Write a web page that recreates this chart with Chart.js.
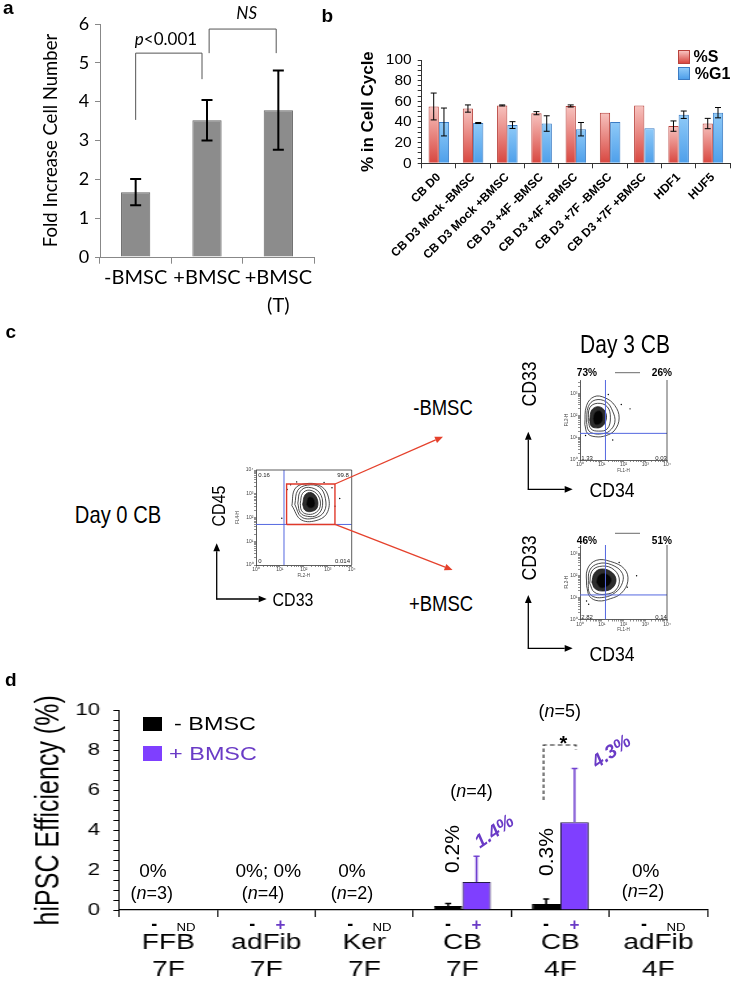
<!DOCTYPE html>
<html>
<head>
<meta charset="utf-8">
<title>BMSC co-culture figure</title>
<script src="https://cdn.jsdelivr.net/npm/chart.js@4.4.1/dist/chart.umd.min.js"></script>
<style>
  html, body { margin: 0; padding: 0; background: #fff; }
  #page { position: relative; width: 734px; height: 982px; overflow: hidden; background: #fff;
          font-family: 'Liberation Sans', Arial, sans-serif; color: #000; }
  #page canvas { position: absolute; }
  .t { position: absolute; white-space: nowrap; line-height: 1; }
  #overlay { position: absolute; left: 0; top: 0; pointer-events: none; }
</style>
</head>
<body>
<div id="page">
  <canvas id="chartA" width="318" height="322" style="left:0px;top:0px;width:318px;height:322px"></canvas>
  <canvas id="chartB" width="434" height="290" style="left:300px;top:0px;width:434px;height:290px"></canvas>
  <canvas id="flowDay0" width="134" height="122" style="left:226px;top:460px;width:134px;height:122px"></canvas>
  <canvas id="flowMinus" width="124" height="110" style="left:552px;top:365px;width:124px;height:110px"></canvas>
  <canvas id="flowPlus" width="124" height="110" style="left:552px;top:524px;width:124px;height:110px"></canvas>
  <!-- panel d is drawn narrow and stretched sideways, like the original -->
  <canvas id="chartD" width="560" height="292" style="left:0px;top:690px;width:728px;height:292px"></canvas>
</div>
<script>
// ---------- panel a: fold increase ----------
const aLabels = [['-BMSC'], ['+BMSC'], ['+BMSC', '(T)']];
const aFold = [1.67, 3.52, 3.78];
const aFoldErr = [0.34, 0.52, 1.02];
// significance brackets: category positions and heights (data units)
const aBrackets = [
  { from: 0, to: 0.93, top: 5.25, left: 3.53, right: 4.58 },
  { from: 1.03, to: 1.97, top: 5.87, left: 5.25, right: 5.25 }
];

// ---------- panel b: cell cycle ----------
const bLabels = ['CB D0', 'CB D3 Mock -BMSC', 'CB D3 Mock +BMSC', 'CB D3 +4F -BMSC', 'CB D3 +4F +BMSC',
                 'CB D3 +7F -BMSC', 'CB D3 +7F +BMSC', 'HDF1', 'HUF5'];
const bS = [55, 53, 56, 48.5, 55.5, 49, 56, 36, 38.5];
const bSErr = [13, 3.5, 0.5, 1.5, 1, 0, 0, 5, 5];
const bG1 = [40, 39, 37, 38.5, 33, 40, 34, 47, 49];
const bG1Err = [13.5, 0.5, 3.3, 7.5, 6.5, 0, 0, 3.6, 5];

// ---------- panel c: flow cytometry contours (raw fluorescence values, outer to inner) ----------
const day0Rings = [
  [[31.6, 316], [42, 1585], [112, 2630], [447, 2239], [1000, 891], [1000, 178], [398, 79], [79, 79]],
  [[42, 355], [56, 1413], [141, 2300], [447, 1905], [794, 631], [708, 178], [282, 95], [79, 105]],
  [[56, 398], [71, 1259], [158, 1862], [447, 1122], [603, 316], [355, 126], [141, 112], [71, 158]],
  [[71, 398], [89, 1047], [178, 1413], [398, 832], [479, 282], [282, 151], [126, 141], [79, 200]],
  [[89, 355], [112, 891], [200, 1122], [355, 631], [355, 251], [200, 178], [112, 200]],
  [[126, 355], [158, 708], [251, 631], [282, 316], [178, 251]]
];
const day0Dots = [[12, 93], [50, 3162], [3162, 631], [1500, 1800], [28, 2400], [700, 3000], [2000, 300], [20, 1500]];
const day0Quad = { x: 14.8, y: 51 };
const day0Gate = [[19, 51], [19, 2570], [1995, 2570], [1995, 51]];
const day0QuadPct = ['0.16', '99.8', '0', '0.014'];

const minusRings = [
  [[1.66, 40], [2, 282], [4.5, 708], [14.1, 631], [40, 282], [63, 79], [40, 22.4], [15.8, 12.6], [5, 11.2], [2.2, 15.8]],
  [[2, 50], [2.4, 251], [5, 501], [15.8, 417], [31.6, 158], [40, 50], [22.4, 20], [10, 15.1], [4, 15.8], [2.4, 22.4]],
  [[2.4, 56], [2.8, 224], [6.3, 355], [17.8, 251], [25, 79], [17.8, 25], [7.1, 20], [3.2, 25]],
  [[2.8, 63], [3.5, 178], [7.1, 251], [14.1, 158], [15.8, 63], [10, 31.6], [5, 28], [3.2, 35]],
  [[4, 71], [5, 141], [8.9, 158], [11.2, 79], [8.9, 45], [5, 40]]
];
const minusDots = [[32, 8], [200, 200], [20, 890], [1.8, 12.6], [79, 316]];
const minusQuad = { x: 14.8, y: 15.8 };
const minusPct = ['73%', '26%', '1.33', '0.03'];

const plusRings = [
  [[2, 35.5], [2.2, 200], [5.6, 501], [25, 447], [112, 200], [158, 56], [79, 15.8], [25, 8.9], [7.1, 7.1], [2.8, 11.2]],
  [[2.4, 40], [2.8, 178], [7.1, 355], [28, 316], [89, 126], [79, 35.5], [31.6, 14.1], [10, 10], [4, 11.2], [2.6, 17.8]],
  [[2.8, 45], [3.5, 158], [7.9, 263], [28, 224], [63, 79], [45, 22.4], [14.1, 14.1], [4.5, 17.8]],
  [[3.5, 50], [4.5, 126], [8.9, 200], [25, 158], [45, 71], [31.6, 28], [12.6, 20], [5, 25]],
  [[5.6, 50], [7.1, 100], [14.1, 126], [28, 71], [20, 35.5], [8.9, 28]]
];
const plusDots = [[2, 7], [400, 100], [63, 400], [2.5, 5], [150, 30]];
const plusQuad = { x: 14.8, y: 13.2 };
const plusPct = ['46%', '51%', '2.82', '0.14'];

// ---------- panel d: reprogramming efficiency ----------
const dLabels = [['FFB', '7F'], ['adFib', '7F'], ['Ker', '7F'], ['CB', '7F'], ['CB', '4F'], ['adFib', '4F']];
const dMinus = [0, 0, 0, 0.2, 0.3, 0];
const dMinusErr = [0, 0, 0, 0.13, 0.25, 0];
const dPlus = [null, 0, null, 1.4, 4.4, null];
const dPlusErr = [0, 0, 0, 1.3, 2.7, 0];
const dMarks = [['-', 'ND'], ['-', '+'], ['-', 'ND'], ['-', '+'], ['-', '+'], ['-', 'ND']];
const dStar = { group: 4, top: 8.28, left: 5.52, right: 8.05 };

const PURPLE = '#7f3fff';
const PURPLE_TEXT = '#6a3bc6';
const BLUE_GATE = '#5468e0';
const RED_ARROW = '#e5412c';
const SANS = "'Liberation Sans', Arial, sans-serif";
const D_STRETCH = 1.3;

Chart.defaults.font.family = SANS;
Chart.defaults.color = '#000';

const page = document.getElementById('page');

function addText(html, x, y, o = {}) {
  const el = document.createElement('div');
  el.className = 't';
  el.innerHTML = html;
  el.style.left = x + 'px';
  el.style.top = y + 'px';
  el.style.fontSize = (o.size || 16) + 'px';
  if (o.family) el.style.fontFamily = o.family;
  if (o.bold) el.style.fontWeight = 'bold';
  if (o.italic) el.style.fontStyle = 'italic';
  if (o.color) el.style.color = o.color;
  el.style.transform = `translate(-50%, -50%) rotate(${o.rot || 0}deg) scaleX(${o.sx || 1})`;
  page.appendChild(el);
  return el;
}

function errorBars(sets) {
  return {
    id: 'errorBars',
    afterDatasetsDraw(chart) {
      const ctx = chart.ctx;
      const ys = chart.scales.y;
      sets.forEach(s => {
        const meta = chart.getDatasetMeta(s.index);
        const values = chart.data.datasets[s.index].data;
        ctx.save();
        ctx.strokeStyle = s.color;
        ctx.lineWidth = s.width;
        meta.data.forEach((bar, i) => {
          const v = values[i];
          const e = s.errors[i];
          if (v == null || !e) return;
          const top = ys.getPixelForValue(v + e);
          const bottom = ys.getPixelForValue(s.upOnly ? v : v - e);
          ctx.beginPath();
          ctx.moveTo(bar.x, bottom);
          ctx.lineTo(bar.x, top);
          ctx.moveTo(bar.x - s.cap / 2, top);
          ctx.lineTo(bar.x + s.cap / 2, top);
          if (!s.upOnly) {
            ctx.moveTo(bar.x - s.cap / 2, bottom);
            ctx.lineTo(bar.x + s.cap / 2, bottom);
          }
          ctx.stroke();
        });
        ctx.restore();
      });
    }
  };
}

// ================= panel a =================
const bracketPlugin = {
  id: 'brackets',
  afterDatasetsDraw(chart) {
    const { ctx } = chart;
    const xs = chart.scales.x, ys = chart.scales.y;
    ctx.save();
    ctx.strokeStyle = '#555';
    ctx.lineWidth = 1;
    aBrackets.forEach(b => {
      const x1 = xs.getPixelForValue(b.from), x2 = xs.getPixelForValue(b.to);
      const yt = ys.getPixelForValue(b.top);
      ctx.beginPath();
      ctx.moveTo(x1, ys.getPixelForValue(b.left));
      ctx.lineTo(x1, yt);
      ctx.lineTo(x2, yt);
      ctx.lineTo(x2, ys.getPixelForValue(b.right));
      ctx.stroke();
    });
    ctx.restore();
  }
};

new Chart(document.getElementById('chartA'), {
  type: 'bar',
  data: {
    labels: aLabels,
    datasets: [{
      data: aFold,
      backgroundColor: '#8c8c8c',
      borderColor: '#666',
      borderWidth: 1,
      categoryPercentage: 1,
      barPercentage: 0.41
    }]
  },
  options: {
    responsive: false,
    animation: false,
    layout: { padding: { top: 24, right: 4, left: 0, bottom: 0 } },
    plugins: { legend: { display: false }, tooltip: { enabled: false } },
    scales: {
      x: {
        grid: { offset: true, drawOnChartArea: false, tickLength: 6.7, color: '#888' },
        border: { color: '#888' },
        ticks: { font: { family: 'Lato', size: 20, lineHeight: 1.4 }, color: '#000', padding: 0, maxRotation: 0, autoSkip: false },
        afterFit: s => { s.height = 65; }
      },
      y: {
        min: 0, max: 6,
        ticks: { stepSize: 1, font: { family: 'Lato', size: 18 }, color: '#000', padding: 5.7 },
        grid: { drawOnChartArea: false, tickLength: 5, color: '#888' },
        border: { color: '#888' },
        title: { display: true, text: 'Fold Increase Cell Number', font: { family: 'Lato', size: 18.5 }, color: '#000', padding: { top: 40, bottom: 0 } },
        afterFit: s => { s.width = 100; }
      }
    }
  },
  plugins: [errorBars([{ index: 0, errors: aFoldErr, color: '#000', width: 2, cap: 11 }]), bracketPlugin]
});

addText('<i>p</i>&lt;0.001', 166, 37.5, { family: 'Lato', size: 17 });
addText('NS', 246.7, 11.7, { family: 'Lato', size: 17, italic: true });

// ================= panel b =================
function barShade(top, bottom) {
  return c => {
    const chart = c.chart;
    if (!chart.chartArea || !c.parsed) return bottom;
    const ys = chart.scales.y;
    const g = chart.ctx.createLinearGradient(0, ys.getPixelForValue(0), 0, ys.getPixelForValue(c.parsed.y));
    g.addColorStop(0, bottom);
    g.addColorStop(1, top);
    return g;
  };
}

new Chart(document.getElementById('chartB'), {
  type: 'bar',
  data: {
    labels: bLabels,
    datasets: [
      { label: '%S', data: bS, backgroundColor: barShade('#f7c3bf', '#d8463f'), borderColor: '#b8423c', borderWidth: 1 },
      { label: '%G1', data: bG1, backgroundColor: barShade('#8fcaf8', '#4e9fea'), borderColor: '#3b7cc4', borderWidth: 1 }
    ]
  },
  options: {
    responsive: false,
    animation: false,
    layout: { padding: { top: 60, right: 4, left: 0, bottom: 0 } },
    datasets: { bar: { categoryPercentage: 0.6, barPercentage: 1 } },
    plugins: { legend: { display: false }, tooltip: { enabled: false } },
    scales: {
      x: {
        grid: { offset: true, drawOnChartArea: false, tickLength: 5, color: '#333' },
        border: { color: '#333' },
        ticks: { font: { size: 12, weight: 'bold' }, color: '#000', minRotation: 45, maxRotation: 45, autoSkip: false, padding: 2 },
        afterFit: s => { s.height = 126.7; }
      },
      y: {
        min: 0, max: 100,
        ticks: { stepSize: 5, autoSkip: false, callback: v => (v % 20 === 0 ? String(v) : ''), font: { size: 15.5 }, color: '#000', padding: 6 },
        grid: { drawOnChartArea: false, tickLength: 4, color: '#333' },
        border: { color: '#333' },
        title: { display: true, text: '% in Cell Cycle', font: { size: 17, weight: 'bold' }, color: '#000', padding: { top: 58, bottom: 0 } },
        afterFit: s => { s.width = 121.7; }
      }
    }
  },
  plugins: [errorBars([
    { index: 0, errors: bSErr, color: '#000', width: 1, cap: 6 },
    { index: 1, errors: bG1Err, color: '#000', width: 1, cap: 6 }
  ])]
});

// legend of panel b
function legendBox(x, y, w, h, grad, border) {
  const el = document.createElement('div');
  el.style.cssText = `position:absolute;left:${x}px;top:${y}px;width:${w}px;height:${h}px;background:${grad};border:1px solid ${border};box-sizing:border-box;`;
  page.appendChild(el);
}
legendBox(678.3, 50, 12, 13.5, 'linear-gradient(#f7c3bf,#d8463f)', '#b8423c');
legendBox(678.3, 66.5, 12, 13.5, 'linear-gradient(#8fcaf8,#4e9fea)', '#3b7cc4');
addText('%S', 706, 57, { size: 16, bold: true });
addText('%G1', 712.5, 73.5, { size: 16, bold: true });

// ================= panel c =================
const flowTickValues = [];
for (let e = 0; e < 4; e++) for (let m = 1; m < 10; m++) flowTickValues.push(m * Math.pow(10, e));
flowTickValues.push(10000);
const SUP = ['\u2070', '\u00b9', '\u00b2', '\u00b3', '\u2074'];
function decadeLabel(v) {
  const e = Math.round(Math.log10(v));
  return Math.abs(Math.pow(10, e) - v) < 1e-6 ? '10' + SUP[e] : '';
}

function frame(sides) {
  return {
    id: 'frame',
    afterDraw(chart) {
      const a = chart.chartArea, c = chart.ctx;
      c.save();
      c.strokeStyle = '#333';
      c.lineWidth = 0.8;
      c.beginPath();
      if (sides.includes('t')) { c.moveTo(a.left, a.top); c.lineTo(a.right, a.top); }
      if (sides.includes('r')) { c.moveTo(a.right, a.top); c.lineTo(a.right, a.bottom); }
      c.stroke();
      c.restore();
    }
  };
}

function flowChart(id, o) {
  const datasets = [];
  o.rings.forEach((ring, i) => {
    const depth = o.rings.length - 1 - i;
    datasets.push({
      data: ring.concat([ring[0]]).map(p => ({ x: p[0], y: p[1] })),
      showLine: true, tension: 0.4, pointRadius: 0,
      borderWidth: 0.8, borderColor: '#1e1e1e',
      fill: depth <= 1 ? 'shape' : false,
      backgroundColor: depth === 0 ? '#050505' : '#2e2e2e',
      order: 30 - i
    });
  });
  datasets.push({ data: o.dots.map(p => ({ x: p[0], y: p[1] })), pointRadius: 0.7, backgroundColor: '#000', borderWidth: 0, order: 6 });
  datasets.push({ data: [{ x: o.quad.x, y: 1 }, { x: o.quad.x, y: 10000 }], showLine: true, pointRadius: 0, borderColor: BLUE_GATE, borderWidth: 1, order: 2 });
  datasets.push({ data: [{ x: 1, y: o.quad.y }, { x: 10000, y: o.quad.y }], showLine: true, pointRadius: 0, borderColor: BLUE_GATE, borderWidth: 1, order: 2 });
  if (o.gate) {
    datasets.push({ data: o.gate.concat([o.gate[0]]).map(p => ({ x: p[0], y: p[1] })), showLine: true, tension: 0, pointRadius: 0, borderColor: '#e0392a', borderWidth: 1.4, order: 1 });
  }
  const tinyTicks = { autoSkip: false, maxRotation: 0, font: { size: 5 }, color: '#444', callback: decadeLabel };
  return new Chart(document.getElementById(id), {
    type: 'scatter',
    data: { datasets },
    options: {
      responsive: false,
      animation: false,
      layout: { padding: { top: o.padTop, right: o.padRight, left: 0, bottom: 0 } },
      plugins: { legend: { display: false }, tooltip: { enabled: false } },
      scales: {
        x: {
          type: 'logarithmic', min: 1, max: 10000,
          afterBuildTicks: s => { s.ticks = flowTickValues.map(v => ({ value: v })); },
          ticks: Object.assign({ padding: 0 }, tinyTicks),
          grid: { drawOnChartArea: false, tickLength: 2, color: '#444', lineWidth: 0.6 },
          border: { color: '#333', width: 0.8 },
          title: { display: true, text: o.xTitle, font: { size: 4.5 }, color: '#444', padding: { top: 0, bottom: o.xTitlePad } },
          afterFit: s => { s.height = o.xHeight; }
        },
        y: {
          type: 'logarithmic', min: 1, max: o.yMax,
          afterBuildTicks: s => { s.ticks = flowTickValues.filter(v => v <= o.yMax).map(v => ({ value: v })); },
          ticks: Object.assign({ padding: 0.5 }, tinyTicks),
          grid: { drawOnChartArea: false, tickLength: 2, color: '#444', lineWidth: 0.6 },
          border: { color: '#333', width: 0.8 },
          title: { display: true, text: o.yTitle, font: { size: 4.5 }, color: '#444', padding: { top: o.yTitlePad, bottom: 0 } },
          afterFit: s => { s.width = o.yWidth; }
        }
      }
    },
    plugins: [frame(o.frame)]
  });
}

flowChart('flowDay0', {
  rings: day0Rings, dots: day0Dots, quad: day0Quad, gate: day0Gate,
  xTitle: 'FL2-H', yTitle: 'FL4-H', yMax: 10000,
  padTop: 10, padRight: 8.3, xHeight: 17, yWidth: 30, xTitlePad: 4, yTitlePad: 9.3, frame: 'tr'
});
flowChart('flowMinus', {
  rings: minusRings, dots: minusDots, quad: minusQuad,
  xTitle: 'FL1-H', yTitle: 'FL2-H', yMax: 3981,
  padTop: 15, padRight: 9, xHeight: 15, yWidth: 28, xTitlePad: 2, yTitlePad: 12, frame: 'r'
});
flowChart('flowPlus', {
  rings: plusRings, dots: plusDots, quad: plusQuad,
  xTitle: 'FL1-H', yTitle: 'FL2-H', yMax: 2512,
  padTop: 21, padRight: 9, xHeight: 14.5, yWidth: 28, xTitlePad: 2, yTitlePad: 12, frame: 'r'
});

// quadrant numbers
const tiny = { size: 6, color: '#222' };
addText(day0QuadPct[0], 264, 475, tiny);
addText(day0QuadPct[1], 343, 475, tiny);
addText(day0QuadPct[2], 260, 561, tiny);
addText(day0QuadPct[3], 342.5, 561, tiny);
addText(minusPct[2], 587, 457.5, tiny);
addText(minusPct[3], 661, 457.5, tiny);
addText(plusPct[2], 587, 617, tiny);
addText(plusPct[3], 661, 617, tiny);
addText(minusPct[0], 586.7, 373.3, { size: 11.5, bold: true, sx: 0.88 });
addText(minusPct[1], 661.7, 373.3, { size: 11.5, bold: true, sx: 0.88 });
addText(plusPct[0], 586.7, 540.7, { size: 11.5, bold: true, sx: 0.88 });
addText(plusPct[1], 662, 540.7, { size: 11.5, bold: true, sx: 0.88 });

const NARROW = 0.84;
addText('Day 0 CB', 117.5, 515, { size: 24, sx: NARROW });
addText('Day 3 CB', 625, 344, { size: 25, sx: NARROW });
addText('CD45', 218.3, 505.8, { size: 19, rot: -90, sx: NARROW });
addText('CD33', 293.3, 599.3, { size: 19, sx: NARROW });
addText('-BMSC', 443, 407.5, { size: 22, sx: NARROW });
addText('+BMSC', 440.8, 604, { size: 22, sx: NARROW });
addText('CD33', 528.3, 384, { size: 21, rot: -90, sx: NARROW });
addText('CD34', 611.7, 489.3, { size: 21, sx: NARROW });
addText('CD33', 528.3, 558, { size: 21, rot: -90, sx: NARROW });
addText('CD34', 611.7, 653.3, { size: 21, sx: NARROW });

// arrows of panel c
const svgNS = 'http://www.w3.org/2000/svg';
const svg = document.createElementNS(svgNS, 'svg');
svg.setAttribute('id', 'overlay');
svg.setAttribute('width', '734');
svg.setAttribute('height', '982');
page.appendChild(svg);
function arrow(x1, y1, x2, y2, color, w, head) {
  const ang = Math.atan2(y2 - y1, x2 - x1);
  const bx = x2 - head * Math.cos(ang), by = y2 - head * Math.sin(ang);
  const hw = head * 0.42;
  const px = -Math.sin(ang) * hw, py = Math.cos(ang) * hw;
  const line = document.createElementNS(svgNS, 'line');
  line.setAttribute('x1', x1); line.setAttribute('y1', y1);
  line.setAttribute('x2', bx); line.setAttribute('y2', by);
  line.setAttribute('stroke', color); line.setAttribute('stroke-width', w);
  svg.appendChild(line);
  const tri = document.createElementNS(svgNS, 'polygon');
  tri.setAttribute('points', `${x2},${y2} ${bx + px},${by + py} ${bx - px},${by - py}`);
  tri.setAttribute('fill', color);
  svg.appendChild(tri);
}
arrow(216.7, 599.5, 216.7, 543.3, '#000', 1.3, 8);
arrow(216.2, 599, 266.7, 599, '#000', 1.3, 8);
arrow(528.3, 489.8, 528.3, 431.7, '#000', 1.3, 8);
arrow(527.8, 489.3, 572.7, 489.3, '#000', 1.3, 8);
arrow(528.3, 648.8, 528.3, 595, '#000', 1.3, 8);
arrow(527.8, 648.3, 572.7, 648.3, '#000', 1.3, 8);
arrow(335, 484, 443, 436.7, RED_ARROW, 1.3, 8);
arrow(335, 524.4, 452.6, 570, RED_ARROW, 1.3, 8);
function rule(x1, y1, x2, y2) {
  const l = document.createElementNS(svgNS, 'line');
  l.setAttribute('x1', x1); l.setAttribute('y1', y1); l.setAttribute('x2', x2); l.setAttribute('y2', y2);
  l.setAttribute('stroke', '#444'); l.setAttribute('stroke-width', 0.8);
  svg.appendChild(l);
}
rule(615, 372.7, 640, 372.7);
rule(615, 533.3, 640, 533.3);

// ================= panel d =================
const starPlugin = {
  id: 'starBracket',
  afterDatasetsDraw(chart) {
    const ys = chart.scales.y, c = chart.ctx;
    const xL = chart.getDatasetMeta(0).data[dStar.group].x - 2;
    const xR = chart.getDatasetMeta(1).data[dStar.group].x + 1;
    const yt = ys.getPixelForValue(dStar.top);
    c.save();
    c.strokeStyle = '#1a1a1a';
    c.lineWidth = 1.1;
    c.setLineDash([3.5, 2.5]);
    c.beginPath();
    c.moveTo(xL, ys.getPixelForValue(dStar.left));
    c.lineTo(xL, yt);
    c.lineTo(xR, yt);
    c.lineTo(xR, ys.getPixelForValue(dStar.right));
    c.stroke();
    c.restore();
  }
};

const chartD = new Chart(document.getElementById('chartD'), {
  type: 'bar',
  data: {
    labels: dLabels,
    datasets: [
      { label: '- BMSC', data: dMinus, backgroundColor: '#000', borderColor: '#000', borderWidth: 1 },
      { label: '+ BMSC', data: dPlus, backgroundColor: PURPLE, borderColor: '#241a4a', borderWidth: 1 }
    ]
  },
  options: {
    responsive: false,
    animation: false,
    layout: { padding: { top: 20.7, right: 15.9, left: 0, bottom: 0 } },
    datasets: { bar: { categoryPercentage: 0.58, barPercentage: 1 } },
    plugins: { legend: { display: false }, tooltip: { enabled: false } },
    scales: {
      x: {
        grid: { offset: true, drawOnChartArea: false, tickLength: 7, color: '#000' },
        border: { color: '#000', width: 1.2 },
        ticks: { font: { size: 21.6, lineHeight: 1.25 }, color: '#000', padding: 12.5, maxRotation: 0, autoSkip: false },
        afterFit: s => { s.height = 72; }
      },
      y: {
        min: 0, max: 10,
        ticks: { stepSize: 0.5, autoSkip: false, callback: v => (v % 2 === 0 ? String(v) : ''), font: { size: 17 }, color: '#000', padding: 10.3 },
        grid: { drawOnChartArea: false, tickLength: 4.6, color: '#000' },
        border: { color: '#000' },
        title: { display: true, text: 'hiPSC Efficiency (%)', font: { size: 25 }, color: '#000', padding: { top: 23, bottom: 0 } },
        afterFit: s => { s.width = 91.8; }
      }
    }
  },
  plugins: [errorBars([
    { index: 0, errors: dMinusErr, color: '#000', width: 1.5, cap: 4.6, upOnly: true },
    { index: 1, errors: dPlusErr, color: '#7040d0', width: 1.5, cap: 4.6, upOnly: true }
  ]), starPlugin]
});

// -, + and ND marks under each bar pair
dMarks.forEach((m, i) => {
  const xMinus = chartD.getDatasetMeta(0).data[i].x * D_STRETCH;
  const xPlus = chartD.getDatasetMeta(1).data[i].x * D_STRETCH;
  addText(m[0], xMinus, 924, { size: 18, bold: true });
  if (m[1] === '+') addText('+', xPlus, 924, { size: 17, bold: true, color: PURPLE_TEXT });
  else addText('ND', xPlus + 3, 927, { size: 11, sx: 1.2 });
});

// legend of panel d
legendBox(143.3, 716.7, 19, 14, '#000', '#000');
legendBox(143.3, 746, 19, 14.5, PURPLE, PURPLE);
addText('- BMSC', 214.5, 724, { size: 18, sx: D_STRETCH });
addText('+ BMSC', 212.5, 753.5, { size: 18, sx: D_STRETCH, color: PURPLE_TEXT });

// value and n annotations
const nt = { size: 18 };
addText('0%', 153, 870, { size: 19 });
addText('(<i>n</i>=3)', 151.7, 893, nt);
addText('0%; 0%', 268.3, 870, { size: 19 });
addText('(<i>n</i>=4)', 263, 893, nt);
addText('0%', 352, 870, { size: 19 });
addText('(<i>n</i>=2)', 352, 893, nt);
addText('(<i>n</i>=4)', 471.5, 791, nt);
addText('0.2%', 451, 849, { size: 21, rot: -90 });
addText('1.4%', 494.3, 830.8, { size: 19, bold: true, italic: true, rot: -35, color: PURPLE_TEXT });
addText('(<i>n</i>=5)', 559.7, 711, nt);
addText('*', 563.3, 743, { size: 20, bold: true });
addText('0.3%', 545, 852.3, { size: 21, rot: -90 });
addText('4.3%', 610.7, 750.8, { size: 19, bold: true, italic: true, rot: -35, color: PURPLE_TEXT });
addText('0%', 645.7, 870, { size: 19 });
addText('(<i>n</i>=2)', 643, 891, nt);

// panel letters
addText('a', 8.3, 7.2, { size: 19, bold: true });
addText('b', 327.3, 15.1, { size: 19, bold: true });
addText('c', 10.7, 330.7, { size: 19, bold: true });
addText('d', 10.7, 678.5, { size: 19, bold: true });
</script>
</body>
</html>
